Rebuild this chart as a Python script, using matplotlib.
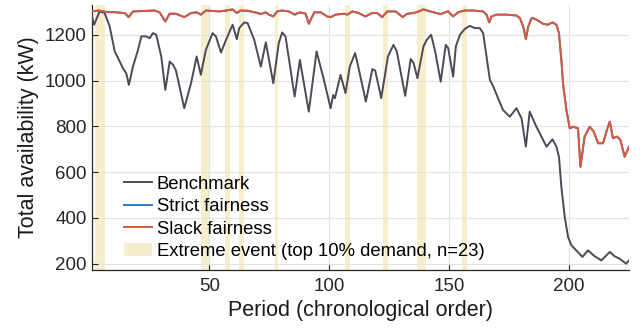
import matplotlib
matplotlib.use("Agg")
import matplotlib.pyplot as plt
from matplotlib.patches import Patch
from matplotlib.lines import Line2D

plt.rcParams['font.family'] = ['Liberation Sans', 'DejaVu Sans']

# benchmark availability (period, kW)
bench_p = [1, 2, 4.3, 6.4, 8.5, 10.6, 12, 14, 15.4, 16.5, 18.2, 20.3, 21.7, 23.7, 25.2, 26.5, 27.9,
           30, 31.7, 33.5, 34.9, 36.1, 39.6, 42.4, 44.75, 46.5, 48.6, 51.4, 52.8, 54.9, 57, 59.75,
           61.5, 62.5, 64.6, 66, 68.75, 71.5, 73.6, 76.7, 79, 80.4, 81.8, 85.6, 87.8, 91.5, 94.75,
           97.8, 100.6, 101.7, 102.4, 104.75, 106.8, 108.6, 110.8, 111.8, 115.3, 118, 119.2, 121.7,
           124.5, 126.8, 128.2, 131.7, 134, 135.2, 136.8, 139.3, 140.7, 142.5, 144.2, 146.5, 148.6,
           149.6, 151.7, 152.8, 154.5, 156.5, 158.6, 160.7, 162.8, 164.2, 165.6, 167, 168.3, 170.4,
           172.5, 175.3, 178.1, 180.2, 182, 183.6, 186.4, 188.5, 190.6, 193.1, 194.75, 195.8, 196.8,
           198.2, 199.6, 201, 203, 205.6, 207.9, 210.7, 213.5, 217, 219, 221, 223.8, 225]
bench_v = [1285, 1244, 1302, 1295, 1236, 1127, 1098, 1054, 1032, 981, 1061, 1134, 1193, 1193, 1185, 1207, 1200,
           1105, 959, 1083, 1069, 1045, 879, 988, 1105, 1025, 1134, 1207, 1193, 1122, 1178, 1244,
           1181, 1229, 1254, 1251, 1178, 1061, 1167, 988, 1164, 1210, 1193, 930, 1090, 864, 1127,
           1003, 879, 937, 923, 1025, 945, 1061, 1120, 1076, 908, 1050, 1043, 923,
           1105, 1156, 1127, 933, 1094, 1076, 1010, 1149, 1178, 1200, 1127, 995, 1156,
           1142, 1017, 1149, 1200, 1225, 1239, 1229, 1229, 1207, 1105, 1003, 977, 923,
           871, 842, 879, 835, 711, 864, 798, 755, 711, 743, 711, 667, 536,
           404, 316, 280, 258, 229, 258, 232, 214, 251, 232, 222, 200, 214]

# slack fairness (strict fairness lies exactly underneath it)
fair_p = [1, 4, 7, 11.25, 14.75, 16.4, 18.2, 27.25, 29.3, 31.7, 33.5, 36.1, 39.6, 42.4, 44.75, 46.5, 48.6,
          54.2, 57, 59.75, 61.5, 63, 66, 70.2, 71.5, 73.6, 74.9, 76.7, 78.3, 80.4, 83.2, 85.6, 87.8,
          90.2, 91.5, 93.8, 96.5, 99.2, 100.6, 102.7, 106.2, 107.6, 109.6, 112.3, 115.1, 117.9, 120,
          122.1, 124.2, 127.7, 130.7, 132.5, 135.2, 137.3, 139.3, 142.1, 144.8, 146.5, 148.2, 149.6,
          151.7, 153.7, 156.5, 160, 164.2, 165.6, 166.7, 167.7, 169.8, 174, 178.1, 179.5, 180.9, 182,
          183, 184.4, 185.5, 187.1, 189.2, 191.2, 193.1, 194.75, 195.8, 196.8, 197.5, 198.9, 200.3,
          201.7, 203.75, 204.75, 206.5, 208.6, 210.3, 212.1, 214.2, 215.8, 217, 218.3, 220, 221.4,
          223.2, 225]
slack_v = [1302, 1306, 1300, 1298, 1295, 1277, 1302, 1306, 1298, 1258, 1292, 1292, 1277, 1295, 1298, 1288, 1306,
           1302, 1306, 1311, 1295, 1306, 1305, 1295, 1291, 1298, 1288, 1280, 1302, 1306, 1302, 1288, 1298,
           1292, 1248, 1298, 1298, 1280, 1277, 1288, 1292, 1288, 1302, 1295, 1280, 1295, 1295,
           1277, 1302, 1302, 1277, 1292, 1295, 1302, 1311, 1302, 1295, 1290, 1298, 1302,
           1280, 1298, 1306, 1306, 1302, 1288, 1254, 1280, 1288, 1288, 1284, 1273, 1236, 1181,
           1236, 1273, 1271, 1262, 1248, 1244, 1254, 1244, 1207, 1090, 988, 871, 791,
           798, 791, 623, 755, 798, 777, 726, 726, 784, 820, 748, 755, 740,
           667, 711]
strict_v = list(slack_v)

# extreme-event periods (top 10% demand)
events = [3, 4, 5, 6, 47, 48, 49, 50, 57, 58, 63, 64, 78, 107, 108, 123, 124,
          137, 138, 139, 140, 156, 157]

c_bench = '#4a4a58'
c_strict = '#2f78c4'
c_slack = '#d9573b'
c_event = '#f7efcc'

fig = plt.figure(figsize=(6.44, 3.35), dpi=100)
ax = fig.add_axes([0.1424, 0.194, 0.8343, 0.791])

for e in events:
    ax.axvspan(e - 0.5, e + 0.5, color=c_event, lw=0, zorder=0.2)

ax.plot(bench_p, bench_v, color=c_bench, lw=1.4, zorder=3)
ax.plot(fair_p, strict_v, color=c_strict, lw=1.4, zorder=3)
ax.plot(fair_p, slack_v, color=c_slack, lw=1.4, zorder=4)

ax.set_xlim(1, 225)
ax.set_ylim(172, 1330)
ax.set_xticks([50, 100, 150, 200])
ax.set_yticks([200, 400, 600, 800, 1000, 1200])
ax.grid(True, color='#e3e3e3', lw=0.9)
ax.set_axisbelow(True)
for s in ['top', 'right']:
    ax.spines[s].set_visible(False)
for s in ['left', 'bottom']:
    ax.spines[s].set_color('#262626')
    ax.spines[s].set_linewidth(0.9)
ax.tick_params(direction='in', length=4, width=0.8, colors='#262626', labelsize=13.5)
ax.tick_params(axis='x', pad=6)
ax.set_xlabel('Period (chronological order)', fontsize=15.5, color='#1a1a1a', labelpad=3)
ax.set_ylabel('Total availability (kW)', fontsize=15.5, color='#1a1a1a', labelpad=4)

handles = [Line2D([], [], color=c_bench, lw=1.4),
           Line2D([], [], color=c_strict, lw=1.4),
           Line2D([], [], color=c_slack, lw=1.4),
           Patch(facecolor=c_event, edgecolor='none')]
labels = ['Benchmark', 'Strict fairness', 'Slack fairness',
          'Extreme event (top 10% demand, n=23)']
ax.legend(handles, labels, loc='lower left', bbox_to_anchor=(0.046, 0.009), frameon=False,
          fontsize=13.3, handlelength=1.55, handletextpad=0.22, labelspacing=0.3,
          borderaxespad=0)

fig.savefig('out.png', dpi=100)
